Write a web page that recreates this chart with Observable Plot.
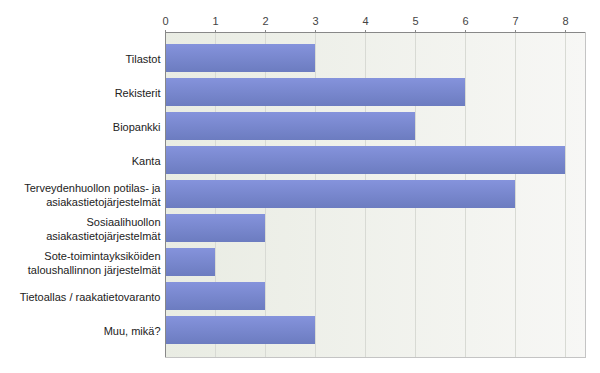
<!DOCTYPE html>
<html>
<head>
<meta charset="utf-8">
<script src="https://cdn.jsdelivr.net/npm/d3@7"></script>
<script src="https://cdn.jsdelivr.net/npm/@observablehq/plot@0.6"></script>
<style>
  html, body { margin: 0; padding: 0; background: #fff; }
  #chart svg { display: block; }
</style>
</head>
<body>
<div id="chart"></div>
<script>
const categories = [
  "Tilastot",
  "Rekisterit",
  "Biopankki",
  "Kanta",
  "Terveydenhuollon potilas- ja\nasiakastietojärjestelmät",
  "Sosiaalihuollon\nasiakastietojärjestelmät",
  "Sote-toimintayksiköiden\ntaloushallinnon järjestelmät",
  "Tietoallas / raakatietovaranto",
  "Muu, mikä?"
];
const values = [3, 6, 5, 8, 7, 2, 1, 2, 3];
const xTicks = [0, 1, 2, 3, 4, 5, 6, 7, 8];

const data = categories.map((c, i) => ({category: c, value: values[i]}));

const chart = Plot.plot({
  width: 600,
  height: 373,
  marginLeft: 165,
  marginRight: 15,
  marginTop: 32,
  marginBottom: 16,
  style: {fontFamily: "Arial, 'Liberation Sans', sans-serif", fontSize: "11px", color: "#333", background: "#fff"},
  x: {domain: [0, 8.4], axis: null, label: null},
  y: {domain: categories, paddingInner: 0.17, paddingOuter: 0.26, axis: null, label: null},
  marks: [
    Plot.frame({fill: "url(#bgGrad)", stroke: null}),
    Plot.gridX(xTicks, {stroke: "#d8dad4", strokeOpacity: 1}),
    Plot.barX(data, {x: "value", y: "category", fill: "url(#barGrad)"}),
    Plot.ruleX([0], {stroke: "#888", strokeWidth: 1}),
    Plot.frame({anchor: "top", stroke: "#888"}),
    Plot.frame({anchor: "right", stroke: "#c4c4c4"}),
    Plot.frame({anchor: "bottom", stroke: "#c4c4c4"}),
    Plot.axisX(xTicks, {anchor: "top", label: null, tickSize: 3, tickPadding: 5, stroke: "#888", fill: "#444", tickFormat: d => String(d)}),
    Plot.axisY({anchor: "left", label: null, tickSize: 0, tickPadding: 5, fill: "#222", lineHeight: 1.3, textAnchor: "end"})
  ]
});

const svg = d3.select(chart);
const defs = svg.insert("defs", ":first-child");
const bg = defs.append("linearGradient").attr("id", "bgGrad").attr("x1", "0").attr("y1", "0").attr("x2", "1").attr("y2", "0");
bg.append("stop").attr("offset", "0%").attr("stop-color", "#e9ece3");
bg.append("stop").attr("offset", "100%").attr("stop-color", "#f7f7f5");
const bar = defs.append("linearGradient").attr("id", "barGrad").attr("x1", "0").attr("y1", "0").attr("x2", "0").attr("y2", "1");
bar.append("stop").attr("offset", "0%").attr("stop-color", "#8593dc");
bar.append("stop").attr("offset", "100%").attr("stop-color", "#6c7cc0");

document.getElementById("chart").appendChild(chart);
</script>
</body>
</html>
